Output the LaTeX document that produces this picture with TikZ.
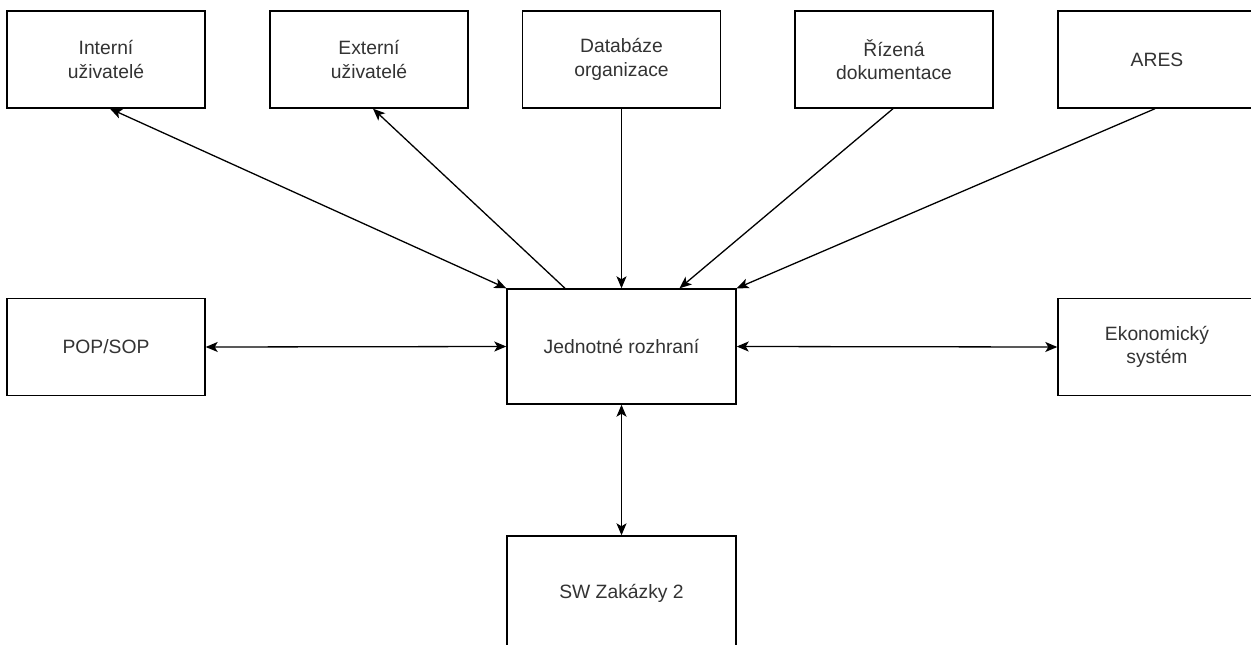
\documentclass[tikz,border=0pt]{standalone}
\usepackage{fontspec}
\setmainfont{Liberation Sans}
\usetikzlibrary{arrows.meta}
\definecolor{txt}{HTML}{333333}
\tikzset{
  box/.style={draw=black, line width=1.4pt, fill=white, inner sep=0pt, align=center,
    text=txt, font=\fontsize{19.3}{23.5}\selectfont},
  sbox/.style={box, minimum width=198pt, minimum height=97pt},
  bbox/.style={box, minimum width=229pt, minimum height=115pt},
  conn/.style={line width=1.3pt, draw=black},
  tip/.style={-{Stealth[length=12pt,width=10pt,inset=3pt]}},
  tips/.style={{Stealth[length=12pt,width=10pt,inset=3pt]}-{Stealth[length=12pt,width=10pt,inset=3pt]}}
}
\begin{document}
\begin{tikzpicture}[x=1pt,y=-1pt]
\useasboundingbox (0,0) rectangle (1251,645);
\node[sbox] (int) at (106,59.5) {Interní\\uživatelé};
\node[sbox] (ext) at (369,59.5) {Externí\\uživatelé};
\node[sbox] (db) at (621.5,59.5) {Databáze\\organizace};
\node[sbox] (riz) at (894,59.5) {Řízená\\dokumentace};
\node[sbox] (ares) at (1157,59.5) {ARES};
\node[sbox] (pop) at (106,347) {POP/SOP};
\node[bbox] (jr) at (621.5,346.5) {Jednotné rozhraní};
\node[sbox] (eko) at (1157,347) {Ekonomický\\systém};
\node[bbox] (sw) at (621.5,593.5) {SW Zakázky 2};

\draw[conn,tips] ([xshift=4pt]int.south) -- (jr.north west);
\draw[conn,tip] ([xshift=-56.5pt]jr.north) -- ([xshift=4pt]ext.south);
\draw[conn,tip] (db.south) -- (jr.north);
\draw[conn,tip] ([xshift=-1pt]riz.south) -- ([xshift=58pt]jr.north);
\draw[conn,tip] ([xshift=-2pt]ares.south) -- (jr.north east);
\draw[conn,tips] (pop.east) -- (jr.west);
\draw[conn,tips] (jr.east) -- (eko.west);
\draw[conn,tips] (jr.south) -- (sw.north);
\end{tikzpicture}
\end{document}
